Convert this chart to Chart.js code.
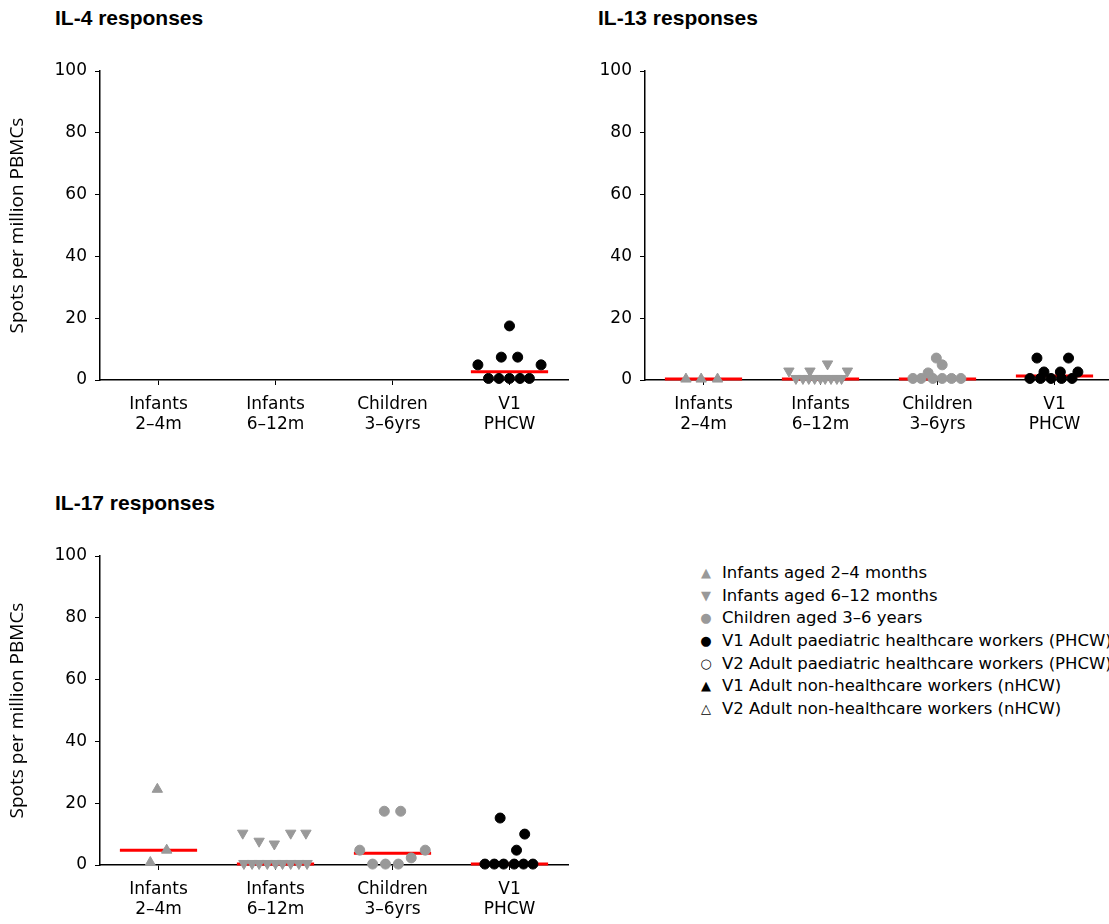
<!DOCTYPE html>
<html>
<head>
<meta charset="utf-8">
<script src="https://cdn.jsdelivr.net/npm/chart.js@4.4.1/dist/chart.umd.min.js"></script>
<style>
  html, body { margin: 0; padding: 0; background: #fff; overflow: hidden; }
  body { width: 1109px; height: 924px; position: relative; }
  .panel { position: absolute; width: 580px; height: 440px; }
  .title { position: absolute; font: bold 21px 'Liberation Sans', Arial, sans-serif; color: #000; }
  #legend { position: absolute; left: 696px; top: 562px; font: 16.5px 'DejaVu Sans', sans-serif; color: #000; white-space: nowrap; }
  #legend div { position: relative; height: 22.7px; line-height: 22.7px; padding-left: 26px; }
  #legend span { position: absolute; left: 2px; top: 0; width: 16px; text-align: center; font-size: 13px; }
</style>
</head>
<body>
<div class="title" style="left:55px; top:6px;">IL-4 responses</div>
<div class="title" style="left:598px; top:6px;">IL-13 responses</div>
<div class="title" style="left:55px; top:491px;">IL-17 responses</div>

<div class="panel" style="left:0; top:40px;"><canvas id="il4"></canvas></div>
<div class="panel" style="left:545px; top:40px;"><canvas id="il13"></canvas></div>
<div class="panel" style="left:0; top:525px;"><canvas id="il17"></canvas></div>

<div id="legend"></div>

<script>
const categories = [['Infants', '2–4m'], ['Infants', '6–12m'], ['Children', '3–6yrs'], ['V1', 'PHCW']];
const yTicks = [0, 20, 40, 60, 80, 100];
const yTitle = 'Spots per million PBMCs';

// IL-4 (only adult PHCW have values)
const il4PhcwX = [4.0, 3.93, 4.07, 3.73, 4.27, 3.82, 3.91, 4.0, 4.09, 4.17];
const il4PhcwY = [17.5, 7.4, 7.4, 4.9, 4.9, 0.5, 0.5, 0.5, 0.5, 0.5];
const il4Medians = [null, null, null, 2.7];

// IL-13
const il13InfAX = [0.85, 0.98, 1.12];
const il13InfAY = [0.3, 0.3, 0.3];
const il13InfBX = [1.79, 1.85, 1.9, 1.95, 2.0, 2.04, 2.09, 2.14, 2.18, 1.73, 1.91, 2.06, 2.23];
const il13InfBY = [0.5, 0.5, 0.5, 0.5, 0.5, 0.5, 0.5, 0.5, 0.5, 2.9, 2.9, 5.2, 2.9];
const il13ChildX = [2.79, 2.86, 2.96, 3.04, 3.12, 3.2, 2.92, 3.04, 2.99];
const il13ChildY = [0.5, 0.5, 0.5, 0.5, 0.5, 0.5, 2.3, 4.9, 7.1];
const il13PhcwX = [3.85, 4.12, 3.91, 4.05, 4.2, 3.79, 3.88, 3.97, 4.06, 4.15];
const il13PhcwY = [7.1, 7.1, 2.6, 2.6, 2.6, 0.5, 0.5, 0.5, 0.5, 0.5];
const il13Medians = [0.3, 0.3, 0.3, 1.3];

// IL-17
const il17InfAX = [0.93, 0.99, 1.07];
const il17InfAY = [0.8, 24.5, 4.8];
const il17InfBX = [1.73, 1.8, 1.86, 1.93, 2.0, 2.06, 2.13, 2.2, 2.27, 1.72, 1.86, 1.99, 2.13, 2.26];
const il17InfBY = [0.5, 0.5, 0.5, 0.5, 0.5, 0.5, 0.5, 0.5, 0.5, 10.3, 7.7, 6.8, 10.3, 10.3];
const il17ChildX = [2.93, 3.07, 2.72, 3.28, 3.16, 2.83, 2.94, 3.05];
const il17ChildY = [17.4, 17.4, 4.8, 4.8, 2.3, 0.3, 0.3, 0.3];
const il17PhcwX = [3.92, 4.13, 4.06, 3.79, 3.87, 3.95, 4.04, 4.12, 4.2];
const il17PhcwY = [15.2, 10, 4.8, 0.3, 0.3, 0.3, 0.3, 0.3, 0.3];
const il17Medians = [4.8, 0.3, 3.8, 0.3];

const legendItems = [
  { sym: '▲', color: '#999', label: 'Infants aged 2–4 months' },
  { sym: '▼', color: '#999', label: 'Infants aged 6–12 months' },
  { sym: '●', color: '#999', label: 'Children aged 3–6 years' },
  { sym: '●', color: '#000', label: 'V1 Adult paediatric healthcare workers (PHCW)' },
  { sym: '○', color: '#000', label: 'V2 Adult paediatric healthcare workers (PHCW)' },
  { sym: '▲', color: '#000', label: 'V1 Adult non-healthcare workers (nHCW)' },
  { sym: '△', color: '#000', label: 'V2 Adult non-healthcare workers (nHCW)' }
];

const GREY = '#999999';
const tickFont = { family: "'DejaVu Sans', sans-serif", size: 17 };

function points(xs, ys) {
  return xs.map((x, i) => ({ x, y: ys[i] }));
}

function group(xs, ys, style, color, rotation = 0) {
  return {
    type: 'scatter',
    data: points(xs, ys),
    pointStyle: style,
    pointRotation: rotation,
    pointRadius: style === 'triangle' ? 6 : 5,
    pointBackgroundColor: color,
    pointBorderColor: color,
    pointBorderWidth: 1,
    clip: false
  };
}

function medianLines(medians) {
  return medians
    .map((m, i) => m === null ? null : {
      type: 'line',
      data: [{ x: i + 1 - 0.33, y: m }, { x: i + 1 + 0.33, y: m }],
      borderColor: '#ff0000',
      borderWidth: 3,
      pointRadius: 0,
      clip: false
    })
    .filter(Boolean);
}

function makePanel(id, datasets, showTitle) {
  new Chart(document.getElementById(id), {
    type: 'scatter',
    data: { datasets },
    options: {
      responsive: false,
      animation: false,
      events: [],
      layout: { padding: { top: 31, right: 12, left: 0, bottom: 0 } },
      plugins: { legend: { display: false }, tooltip: { enabled: false } },
      scales: {
        x: {
          type: 'linear',
          min: 0.5,
          max: 4.5,
          z: 1,
          afterFit: s => { s.height = 100; },
          afterBuildTicks: s => { s.ticks = categories.map((c, i) => ({ value: i + 1 })); },
          ticks: {
            color: '#000',
            font: tickFont,
            padding: 9,
            maxRotation: 0,
            autoSkip: false,
            callback: (v) => categories[Math.round(v) - 1]
          },
          grid: { drawOnChartArea: false, drawTicks: true, tickLength: 5, color: '#000', lineWidth: 1 },
          border: { display: true, color: '#000', width: 1.5 }
        },
        y: {
          min: 0,
          max: 100,
          afterFit: s => { s.width = 100; },
          afterBuildTicks: s => { s.ticks = yTicks.map(v => ({ value: v })); },
          ticks: { color: '#000', font: tickFont, padding: 8 },
          title: {
            display: showTitle,
            text: yTitle,
            color: '#000',
            font: { family: "'Open Sans', sans-serif", size: 19 },
            padding: { top: 6, bottom: 0 }
          },
          grid: { drawOnChartArea: false, drawTicks: true, tickLength: 5, color: '#000', lineWidth: 1 },
          border: { display: true, color: '#000', width: 1.5 }
        }
      }
    }
  });
}

function setupCanvas(id) {
  const c = document.getElementById(id);
  c.width = 580;
  c.height = 440;
  c.style.width = '580px';
  c.style.height = '440px';
}

['il4', 'il13', 'il17'].forEach(setupCanvas);

makePanel('il4', [
  group(il4PhcwX, il4PhcwY, 'circle', '#000'),
  ...medianLines(il4Medians)
], true);

makePanel('il13', [
  group(il13InfAX, il13InfAY, 'triangle', GREY),
  group(il13InfBX, il13InfBY, 'triangle', GREY, 180),
  group(il13ChildX, il13ChildY, 'circle', GREY),
  group(il13PhcwX, il13PhcwY, 'circle', '#000'),
  ...medianLines(il13Medians)
], false);

makePanel('il17', [
  group(il17InfAX, il17InfAY, 'triangle', GREY),
  group(il17InfBX, il17InfBY, 'triangle', GREY, 180),
  group(il17ChildX, il17ChildY, 'circle', GREY),
  group(il17PhcwX, il17PhcwY, 'circle', '#000'),
  ...medianLines(il17Medians)
], true);

const legend = document.getElementById('legend');
for (const item of legendItems) {
  const row = document.createElement('div');
  const sym = document.createElement('span');
  sym.textContent = item.sym;
  sym.style.color = item.color;
  row.appendChild(sym);
  row.appendChild(document.createTextNode(item.label));
  legend.appendChild(row);
}
</script>
</body>
</html>
